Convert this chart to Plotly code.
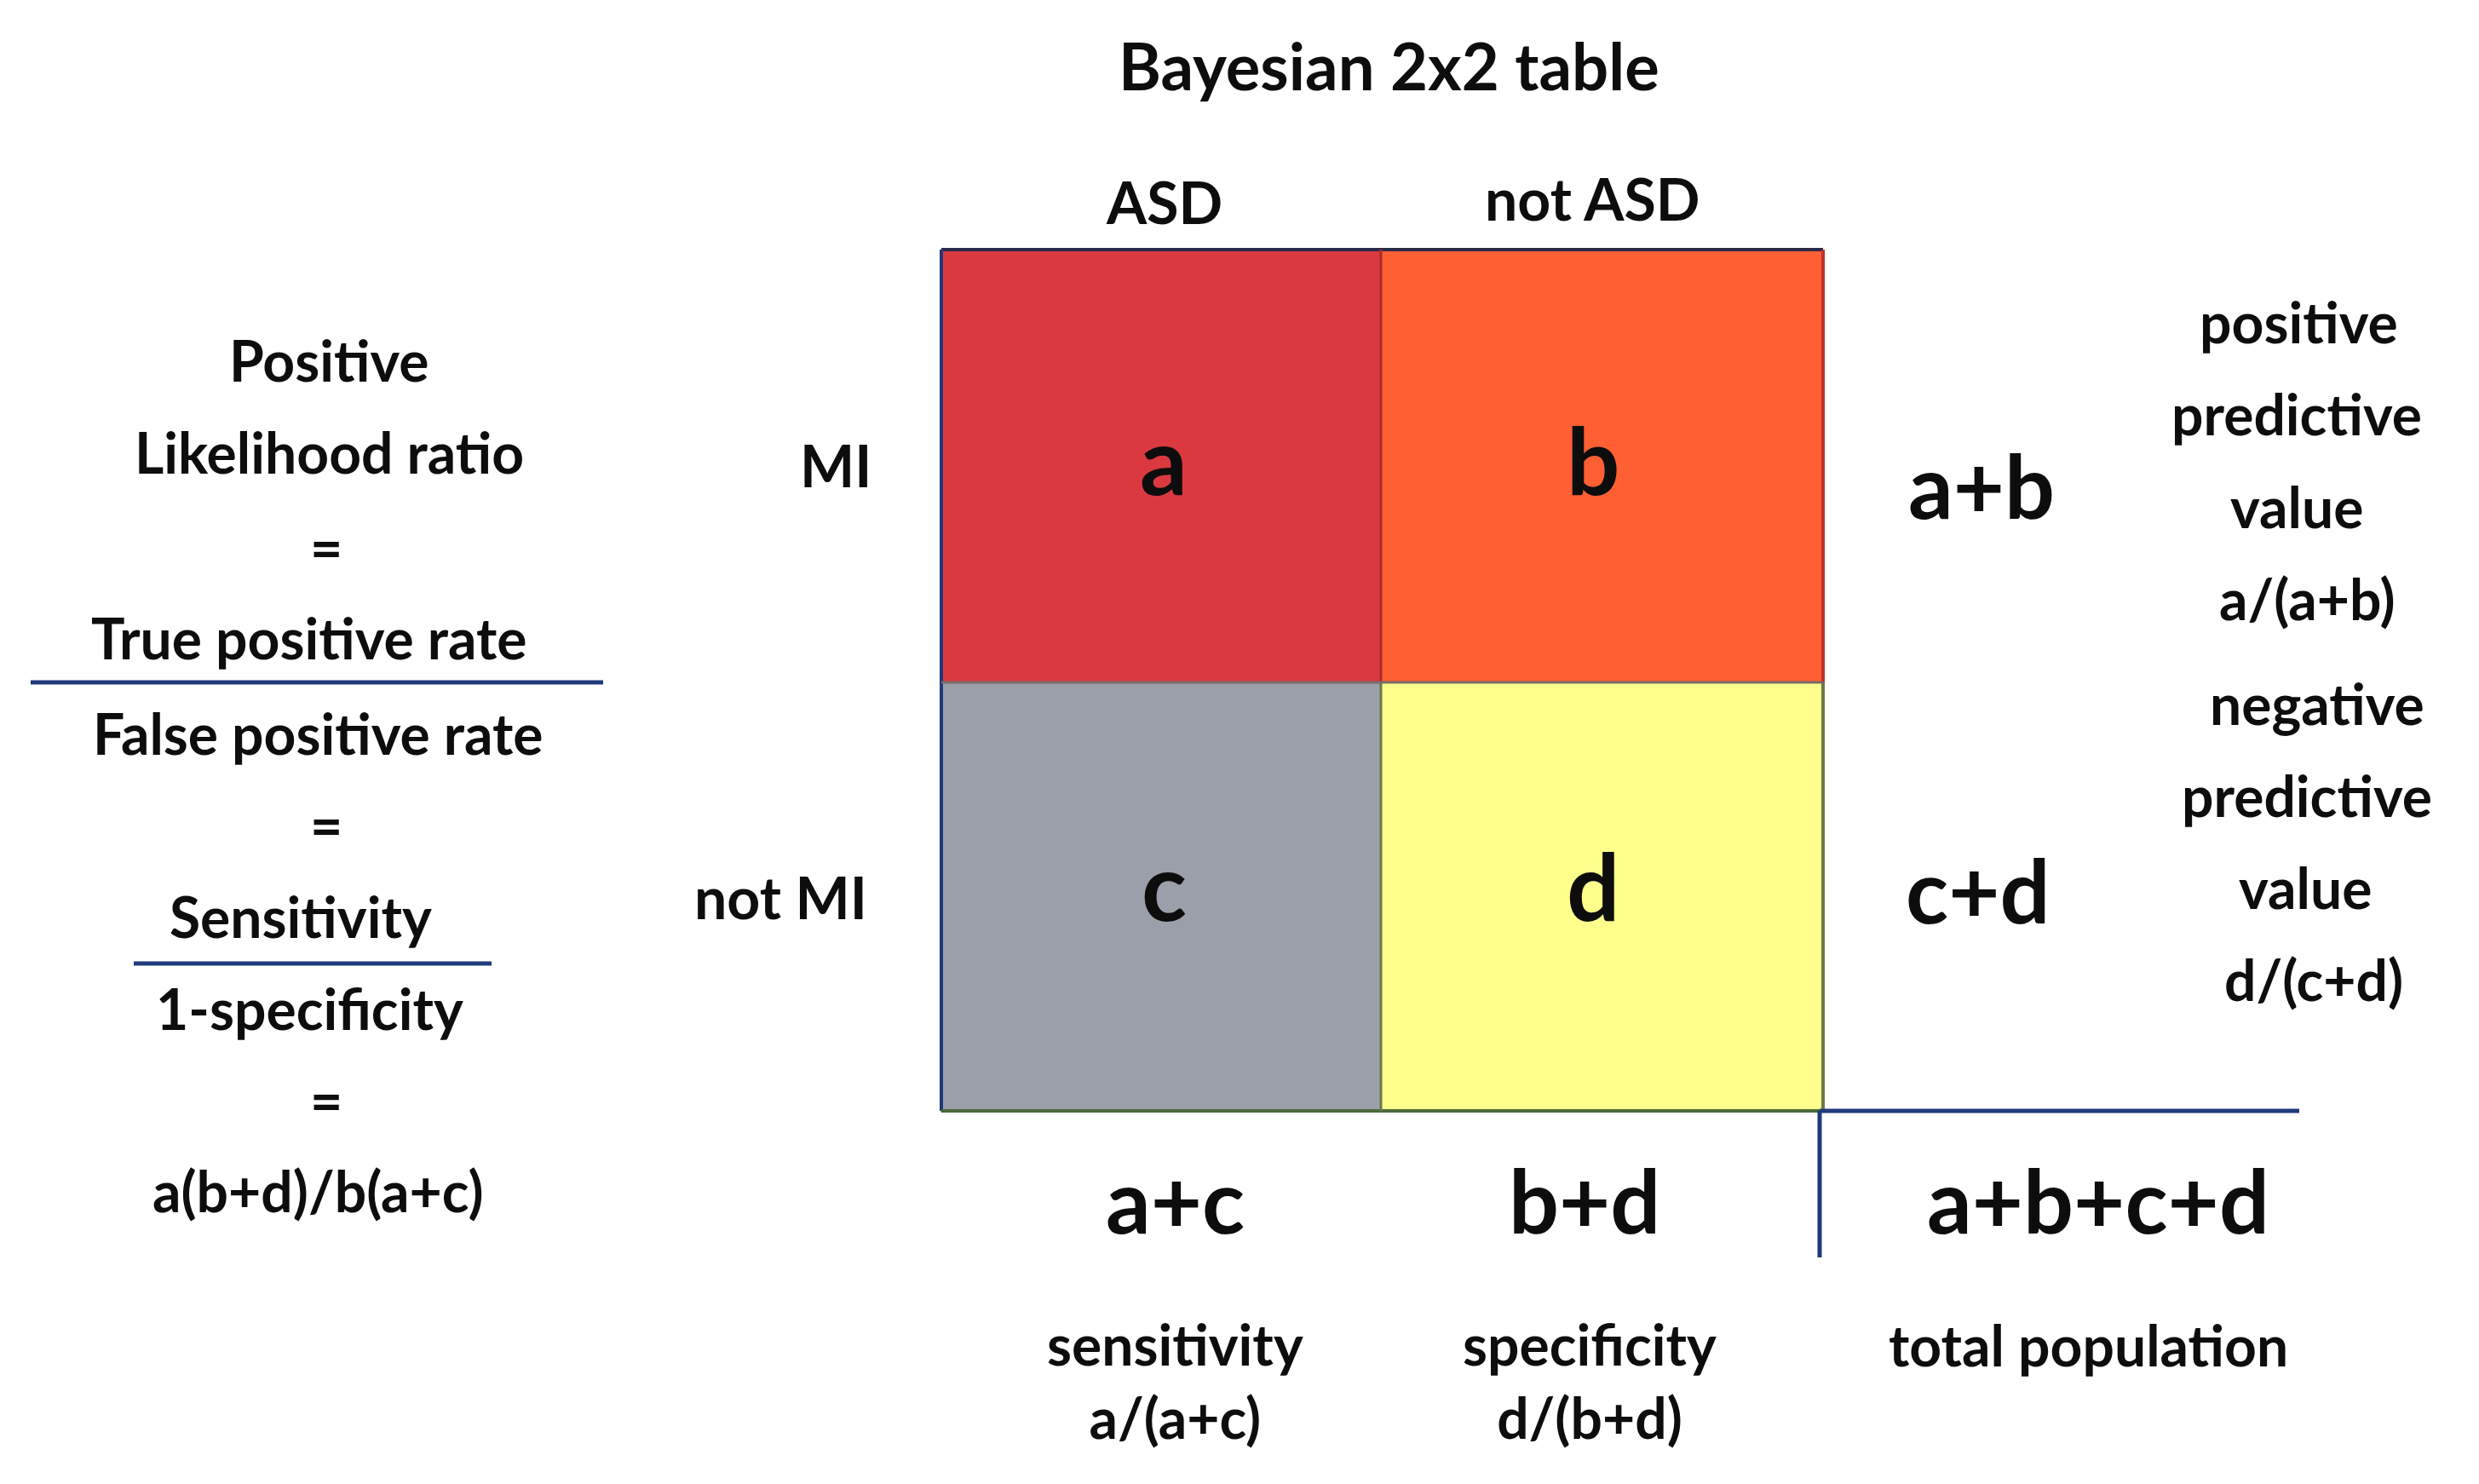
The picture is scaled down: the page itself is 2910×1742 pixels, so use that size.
import plotly.graph_objects as go

W, H = 2910, 1742
FONT = "Lato"
DARK = "#0d0d0d"

# data
col_labels = ["ASD", "not ASD"]
row_labels = ["MI", "not MI"]
cell_letters = [["a", "b"], ["c", "d"]]
cell_codes = [[0, 1], [2, 3]]
cell_colors = ["#DA3940", "#FF5F33", "#9B9FA9", "#FFFF8C"]
row_totals = ["a+b", "c+d"]
col_totals = ["a+c", "b+d"]
grand_total = "a+b+c+d"
col_metrics = ["sensitivity<br>a/(a+c)", "specificity<br>d/(b+d)"]
left_lines = ["Positive", "Likelihood ratio", "=", "True positive rate", "False positive rate",
              "=", "Sensitivity", "1-specificity", "=", "a(b+d)/b(a+c)"]
right_lines = ["positive", "predictive", "value", "a/(a+b)",
               "negative", "predictive", "value", "d/(c+d)"]

xe = [1097, 1613, 2132]
ye = [285, 793, 1296]
xc = [(xe[0] + xe[1]) / 2, (xe[1] + xe[2]) / 2]
yc = [(ye[0] + ye[1]) / 2, (ye[1] + ye[2]) / 2]

n = len(cell_colors)
cs = []
for i, c in enumerate(cell_colors):
    cs += [[i / n, c], [(i + 1) / n, c]]

fig = go.Figure(go.Heatmap(x=xc, y=yc, z=cell_codes, zmin=0, zmax=n, colorscale=cs,
                           showscale=False, hoverinfo="skip"))

ann = []
def t(x, y, s, size, bold=True):
    ann.append(dict(x=x, y=y, text=f"<b>{s}</b>" if bold else s, showarrow=False,
                    font=dict(family=FONT, size=size, color=DARK), xanchor="center", yanchor="middle"))

t(1622, 68, "Bayesian 2x2 table", 76)
t(1358, 228, col_labels[0], 68)
t(1861, 224, col_labels[1], 68)
t(973, 537, row_labels[0], 68)
t(908, 1044, row_labels[1], 68)
for r in range(2):
    for c in range(2):
        t([1358, 1862][c], [530, 1030][r], cell_letters[r][c], 110)
t(2318, 560, row_totals[0], 104)
t(2313, 1035, row_totals[1], 104)
t(1371, 1399, col_totals[0], 104)
t(1852, 1399, col_totals[1], 104)
t(2455, 1399, grand_total, 104)
t(1371, 1612, col_metrics[0], 66)
t(1858, 1612, col_metrics[1], 66)
t(2443, 1570, "total population", 66)
ly = [414, 522, 634, 740, 852, 960, 1067, 1175, 1283, 1389]
lx = [378, 378, 375, 355, 365, 375, 345, 355, 375, 365]
for x, y, s in zip(lx, ly, left_lines):
    t(x, y, s, 66)
ry = [369, 477, 586, 694, 817, 925, 1033, 1141]
rx = [2690, 2688, 2688, 2700, 2712, 2700, 2698, 2708]
for x, y, s in zip(rx, ry, right_lines):
    t(x, y, s, 66)

shapes = []
def ln(x0, y0, x1, y1, color, w=5):
    shapes.append(dict(type="line", x0=x0, y0=y0, x1=x1, y1=y1, line=dict(color=color, width=w)))

ln(28, 793, 700, 793, "#1F3A7A")
ln(149, 1123, 569, 1123, "#1F3A7A")
ln(xe[0], ye[0], xe[2], ye[0], "#2a2a4a", 4)
ln(xe[0], ye[0], xe[0], ye[2], "#1F3A7A", 4)
ln(xe[0], ye[2], xe[2], ye[2], "#4a6a3a", 4)
ln(xe[2], ye[0], xe[2], ye[1], "#c03030", 4)
ln(xe[2], ye[1], xe[2], ye[2], "#6a7a4a", 4)
ln(xe[1], ye[0], xe[1], ye[1], "#b02a2a", 3)
ln(xe[1], ye[1], xe[1], ye[2], "#6a7a4a", 3)
ln(xe[0], ye[1], xe[2], ye[1], "#7a6a6a", 3)
ln(2128, 1296, 2691, 1296, "#1F3A7A")
ln(2128, 1296, 2128, 1468, "#1F3A7A")

fig.update_layout(width=W, height=H, margin=dict(l=0, r=0, t=0, b=0),
                  paper_bgcolor="white", plot_bgcolor="white",
                  xaxis=dict(range=[0, W], visible=False, fixedrange=True),
                  yaxis=dict(range=[H, 0], visible=False, fixedrange=True),
                  annotations=ann, shapes=shapes, showlegend=False)
fig.write_html("out.html")
